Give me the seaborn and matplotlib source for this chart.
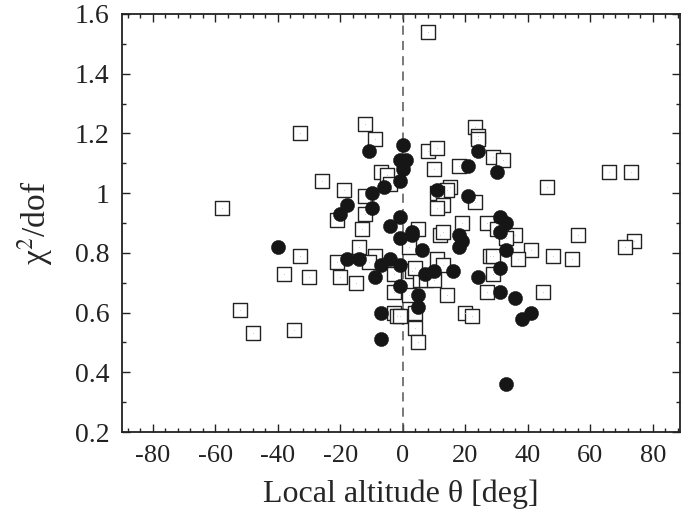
import matplotlib
matplotlib.use("Agg")
import matplotlib.pyplot as plt
import seaborn as sns
import pandas as pd
from matplotlib.ticker import MultipleLocator

# Open squares: local altitude (deg) and reduced chi-square
sq_theta = [8, -33, -12, -9, 23, 24, 24, 8, 11, 29, 32, 10, 18, 46, 66, 73,
            15, 14, 11, 13, 11, 23, 19, 27, 30, 56, 74, 71, 12, 13, 36, 33,
            -58, -26, -19, -7, -5, -4, -12, -12, -21, -13, -14, -33, -38, -30,
            -52, -48, -35, -21, -20, -15, -9, -11, -3, -3, -3, -2, -1, 41, 48,
            54, 37, 28, 29, 29, 27, 45, 2, 11, 13, 3, 5.5, 7.5, 10, 14, 2, 4,
            4, 5, 20, 22, 5, 4]
sq_chi2 = [1.54, 1.20, 1.23, 1.18, 1.22, 1.19, 1.18, 1.14, 1.15, 1.12, 1.11,
           1.08, 1.09, 1.02, 1.07, 1.07, 1.02, 1.01, 1.00, 0.96, 0.95, 0.97,
           0.90, 0.90, 0.88, 0.86, 0.84, 0.82, 0.86, 0.87, 0.86, 0.85, 0.95,
           1.04, 1.01, 1.07, 1.06, 1.03, 0.99, 0.93, 0.91, 0.88, 0.82, 0.79,
           0.73, 0.72, 0.61, 0.53, 0.54, 0.77, 0.72, 0.70, 0.79, 0.77, 0.73,
           0.67, 0.60, 0.59, 0.59, 0.81, 0.79, 0.78, 0.78, 0.79, 0.79, 0.73,
           0.67, 0.67, 0.82, 0.78, 0.76, 0.74, 0.71, 0.71, 0.71, 0.66, 0.66,
           0.60, 0.55, 0.50, 0.60, 0.59, 0.88, 0.75]

# Filled circles
ci_theta = [-40, -20, -18, -18, -14, -11, -10, -10, -9, -7, -7, -7, -6, -4,
            -4, -1, -1, -1, -1, -1, 0, -1, 1, 0, 3, 3, 5, 5, 6, 7, 10, 11, 16,
            18, 19, 18, 21, 21, 24, 24, 30, 31, 33, 31, 33, 31, 31, 36, 38,
            41, 33]
ci_chi2 = [0.82, 0.93, 0.96, 0.78, 0.78, 1.14, 1.00, 0.95, 0.72, 0.76, 0.60,
           0.51, 1.02, 0.89, 0.78, 0.76, 0.69, 0.85, 0.92, 1.04, 1.08, 1.11,
           1.11, 1.16, 0.87, 0.86, 0.66, 0.62, 0.81, 0.73, 0.74, 1.01, 0.74,
           0.86, 0.84, 0.82, 1.09, 0.99, 1.14, 0.72, 1.07, 0.92, 0.90, 0.87,
           0.81, 0.75, 0.67, 0.65, 0.58, 0.60, 0.36]

x_ticks = [-80, -60, -40, -20, 0, 20, 40, 60, 80]
y_ticks = [0.2, 0.4, 0.6, 0.8, 1.0, 1.2, 1.4, 1.6]
y_tick_labels = ["0.2", "0.4", "0.6", "0.8", "1", "1.2", "1.4", "1.6"]

sns.set_style("ticks")
plt.rcParams["font.family"] = ["Liberation Serif", "DejaVu Serif"]
plt.rcParams["mathtext.fontset"] = "stix"

squares = pd.DataFrame({"theta": sq_theta, "chi2": sq_chi2})
circles = pd.DataFrame({"theta": ci_theta, "chi2": ci_chi2})

fig = plt.figure(figsize=(6.82, 5.22), dpi=100)
ax = fig.add_axes([0.1785, 0.1724, 0.8185, 0.8008])

ax.axvline(0, color="#555555", lw=1.1, ls=(0, (6, 4)), zorder=1)

sns.scatterplot(data=squares, x="theta", y="chi2", ax=ax, marker="s", s=90,
                facecolor="white", edgecolor="#222222", linewidth=1.0,
                zorder=2, legend=False)
sns.scatterplot(data=squares, x="theta", y="chi2", ax=ax, marker=".", s=1.5,
                color="#333333", linewidth=0, zorder=3, legend=False)
sns.scatterplot(data=circles, x="theta", y="chi2", ax=ax, marker="o", s=105,
                color="#161616", edgecolor="#161616", linewidth=0.3,
                zorder=4, legend=False)

ax.set_xlim(-90, 88.7)
ax.set_ylim(0.2, 1.6)
ax.set_xticks(x_ticks)
ax.set_xticklabels([str(t) for t in x_ticks])
ax.set_yticks(y_ticks)
ax.set_yticklabels(y_tick_labels)
ax.xaxis.set_minor_locator(MultipleLocator(4))
ax.yaxis.set_minor_locator(MultipleLocator(0.1))
ax.tick_params(which="both", direction="in", top=True, right=True,
               colors="#222222", width=1.0)
ax.tick_params(axis="x", labelsize=19)
ax.tick_params(axis="y", labelsize=20)
ax.tick_params(which="major", length=6, pad=9)
ax.tick_params(which="minor", length=3)
for sp in ax.spines.values():
    sp.set_visible(True)
    sp.set_linewidth(1.3)
    sp.set_color("#222222")

ax.set_xlabel(r"Local altitude θ [deg]", fontsize=23, labelpad=9)
ax.set_ylabel(r"χ$^2$/dof", fontsize=24, labelpad=14)

fig.savefig("out.png", dpi=100)
